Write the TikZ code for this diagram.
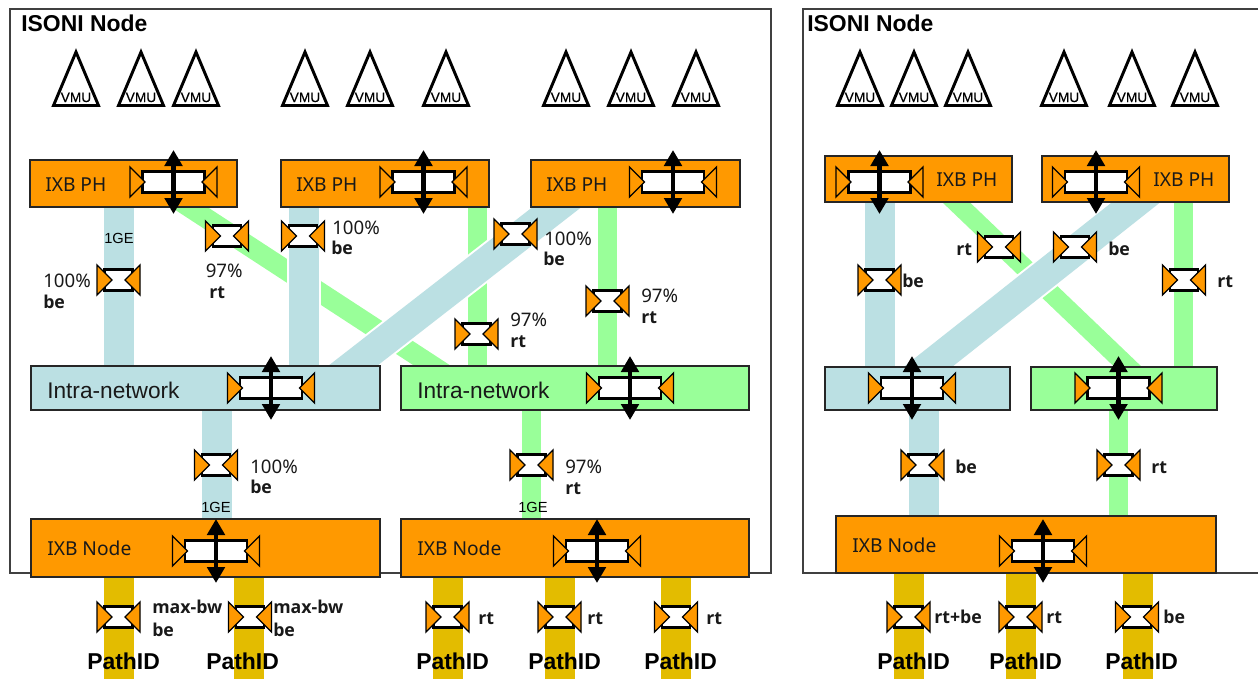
\documentclass[tikz,border=0pt]{standalone}
\usepackage{fontspec}
\setmainfont{Noto Sans}
\newfontfamily\arialfont{Liberation Sans}
\newfontfamily\vmufont[FakeBold=0.4]{Liberation Sans}
\newfontfamily\labelfont{Open Sans}
\usetikzlibrary{arrows.meta,backgrounds}
\definecolor{ixborange}{HTML}{FF9900}
\definecolor{netblue}{HTML}{BBE0E3}
\definecolor{netgreen}{HTML}{99FF99}
\definecolor{pathgold}{HTML}{E3BC00}
\tikzset{
  x=0.75pt,y=-0.75pt,
  wh/.style 2 args={minimum width=#1*0.75pt,minimum height=#2*0.75pt,inner sep=0pt},
  boxnode/.style={draw=black!85,line width=0.85pt,rectangle},
  orangebox/.style={boxnode,fill=ixborange},
  bluebox/.style={boxnode,fill=netblue},
  greenbox/.style={boxnode,fill=netgreen},
  stripblue/.style={draw=netblue,line width=30*0.75pt},
  stripgreen/.style={draw=netgreen,line width=19*0.75pt},
  stripgold/.style={draw=pathgold,line width=30*0.75pt},
  casing/.style={draw=white,line width=34*0.75pt},
  panelline/.style={draw=black!75,line width=0.9pt},
  shaperrect/.style={draw=black,fill=white,line width=2.2pt,inner sep=0pt,rectangle},
  shapertri/.style={draw=black,fill=ixborange,line width=1pt,line join=miter},
  bidir/.style={line width=3.5pt,{Triangle[length=12pt,width=13pt]}-{Triangle[length=12pt,width=13pt]}},
  vmutri/.style={draw=black,fill=white,line width=2.2pt,line join=miter},
  txt/.style={inner sep=0pt,anchor=base west,text=black!90,font=\fontsize{14}{16}\selectfont},
  boldtxt/.style={inner sep=0pt,anchor=base west,text=black!90,font=\labelfont\fontsize{13.3}{16}\selectfont\bfseries},
  boxtxt/.style={txt,font=\fontsize{14.4}{17}\selectfont},
  nettxt/.style={inner sep=0pt,anchor=base west,text=black!90,font=\arialfont\fontsize{17}{19}\selectfont},
  titletxt/.style={inner sep=0pt,anchor=base west,font=\arialfont\fontsize{17.2}{19}\selectfont\bfseries},
  pathtxt/.style={titletxt},
  getxt/.style={inner sep=0pt,anchor=base,font=\arialfont\fontsize{11}{12}\selectfont},
  vmutxt/.style={inner sep=0pt,anchor=base,font=\vmufont\fontsize{10.3}{12}\selectfont},
}
% name, x, y
\newcommand{\smallshaper}[3]{%
  \node[shaperrect,minimum width=21pt,minimum height=15.5pt] (#1) at (#2,#3) {};
  \begin{scope}[shift={(#2,#3)}]
    \draw[shapertri] (-21.5,-15) -- (-21.5,15) -- (-6.5,0) -- cycle;
    \draw[shapertri] (21.5,-15) -- (21.5,15) -- (6.5,0) -- cycle;
  \end{scope}}
\newcommand{\bigshaper}[3]{%
  \node[shaperrect,minimum width=46.5pt,minimum height=15.5pt] (#1) at (#2,#3) {};
  \begin{scope}[shift={(#2,#3)}]
    \draw[shapertri] (-43.5,-15) -- (-43.5,15) -- (-28.5,0) -- cycle;
    \draw[shapertri] (43.5,-15) -- (43.5,15) -- (28.5,0) -- cycle;
    \draw[bidir] (0,-32) -- (0,32);
  \end{scope}}
% name, x
\newcommand{\vmu}[3]{%
  \begin{scope}[shift={(#2,#3)}]
    \draw[vmutri] (0,5) -- (-22.5,58.5) -- (22.5,58.5) -- cycle;
  \end{scope}
  \node[vmutxt] (#1) at (#2,#3+55) {VMU};}
\begin{document}
\begin{tikzpicture}
\useasboundingbox (0,0) rectangle (1258,679);
% boxes
\node[orangebox,wh={207}{47}] (ph1) at (133.5,183.5) {};
\node[orangebox,wh={208}{47}] (ph2) at (385,183.5) {};
\node[orangebox,wh={209}{47}] (ph3) at (635.5,183.5) {};
\node[bluebox,wh={349}{44}] (in1) at (205.5,388) {};
\node[greenbox,wh={348}{44}] (in2) at (575,388) {};
\node[orangebox,wh={349}{58}] (nd1) at (205.5,548) {};
\node[orangebox,wh={348}{58}] (nd2) at (575,548) {};
\node[orangebox,wh={187}{46}] (rph1) at (918.5,179) {};
\node[orangebox,wh={187}{46}] (rph2) at (1135.5,179) {};
\node[bluebox,wh={185}{43}] (rin1) at (917.5,388.5) {};
\node[greenbox,wh={186}{43}] (rin2) at (1124,388.5) {};
\node[orangebox,wh={380}{57}] (rnd) at (1026,544.5) {};
% strip columns
\coordinate (a1) at (119,0);
\coordinate (a2) at (303.5,0);
\coordinate (a3) at (216.5,0);
\coordinate (a4) at (477.5,0);
\coordinate (a5) at (607.5,0);
\coordinate (a6) at (531.5,0);
\coordinate (g1) at (119,0);
\coordinate (g2) at (249,0);
\coordinate (g3) at (448,0);
\coordinate (g4) at (560,0);
\coordinate (g5) at (676,0);
\coordinate (g6) at (908.5,0);
\coordinate (g7) at (1021,0);
\coordinate (g8) at (1137.5,0);
\coordinate (b1) at (879.5,0);
\coordinate (b2) at (923.5,0);
\coordinate (b3) at (1183.5,0);
\coordinate (b4) at (1118.5,0);
\coordinate (floor) at (0,679);
\coordinate (gd1) at (163,190);
\coordinate (gd2) at (462,385);
\coordinate (bd1) at (579,190);
\coordinate (bd2) at (328,385);
\coordinate (rgd1) at (938,185);
\coordinate (rgd2) at (1147,385);
\coordinate (rbd1) at (1158,185);
\coordinate (rbd2) at (905,385);
\begin{scope}[on background layer]
  \fill[white] (0,0) rectangle (1258,679);
  \node[panelline,rectangle,draw,fill=white,inner sep=0pt,minimum width=761*0.75pt,minimum height=564*0.75pt] (panelL) at (390.5,291) {};
  \coordinate (rp1) at (1258,9);
  \coordinate (rp2) at (803,9);
  \coordinate (rp3) at (803,573);
  \coordinate (rp4) at (1258,573);
  \draw[panelline] (rp1) -- (rp2) -- (rp3) -- (rp4);
  % left panel
  \draw[stripgreen,line width=20*0.75pt] (gd1) -- (gd2);
  \draw[stripgreen] (a4 |- ph2.south) -- (a4 |- in2.north);
  \draw[stripgreen] (a5 |- ph3.south) -- (a5 |- in2.north);
  \draw[stripgreen] (a6 |- in2.south) -- (a6 |- nd2.north);
  \draw[stripblue] (a1 |- ph1.south) -- (a1 |- in1.north);
  \draw[casing] (a2 |- ph2.south) -- (a2 |- in1.north);
  \draw[stripblue] (a2 |- ph2.south) -- (a2 |- in1.north);
  \draw[stripblue] (a3 |- in1.south) -- (a3 |- nd1.north);
  \draw[casing] (bd1) -- (bd2);
  \draw[stripblue] (bd1) -- (bd2);
  % right panel
  \draw[stripgreen] (rgd1) -- (rgd2);
  \draw[stripgreen] (b3 |- rph2.south) -- (b3 |- rin2.north);
  \draw[stripgreen] (b4 |- rin2.south) -- (b4 |- rnd.north);
  \draw[stripblue] (b1 |- rph1.south) -- (b1 |- rin1.north);
  \draw[stripblue] (b2 |- rin1.south) -- (b2 |- rnd.north);
  \draw[casing] (rbd1) -- (rbd2);
  \draw[stripblue] (rbd1) -- (rbd2);
  % path strips
  \draw[stripgold] (g1 |- nd1.south) -- (g1 |- floor);
  \draw[stripgold] (g2 |- nd1.south) -- (g2 |- floor);
  \draw[stripgold] (g3 |- nd2.south) -- (g3 |- floor);
  \draw[stripgold] (g4 |- nd2.south) -- (g4 |- floor);
  \draw[stripgold] (g5 |- nd2.south) -- (g5 |- floor);
  \draw[stripgold] (g6 |- rnd.south) -- (g6 |- floor);
  \draw[stripgold] (g7 |- rnd.south) -- (g7 |- floor);
  \draw[stripgold] (g8 |- rnd.south) -- (g8 |- floor);
\end{scope}
% VMUs
\vmu{v1}{76}{47}\vmu{v2}{141}{47}\vmu{v3}{196}{47}
\vmu{v4}{305}{47}\vmu{v5}{370}{47}\vmu{v6}{446}{47}
\vmu{v7}{566}{47}\vmu{v8}{631}{47}\vmu{v9}{696}{47}
\vmu{v10}{860}{47}\vmu{v11}{914}{47}\vmu{v12}{968}{47}
\vmu{v13}{1064}{47}\vmu{v14}{1132}{47}\vmu{v15}{1195}{47}
% big shapers
\bigshaper{bs1}{173.5}{182}
\bigshaper{bs2}{423.5}{182}
\bigshaper{bs3}{673}{182}
\bigshaper{bs4}{271}{388}
\bigshaper{bs5}{630}{388}
\bigshaper{bs6}{216}{551}
\bigshaper{bs7}{597}{551}
\bigshaper{bs8}{879.5}{182}
\bigshaper{bs9}{1096}{182}
\bigshaper{bs10}{912}{388}
\bigshaper{bs11}{1118.5}{388}
\bigshaper{bs12}{1043}{551}
% small shapers
\smallshaper{ss1}{118.5}{280}
\smallshaper{ss2}{227}{236}
\smallshaper{ss3}{303}{236}
\smallshaper{ss4}{515.5}{234}
\smallshaper{ss5}{476.5}{334}
\smallshaper{ss6}{607.5}{301}
\smallshaper{ss7}{216}{465}
\smallshaper{ss8}{531.5}{465}
\smallshaper{ss9}{118.5}{617}
\smallshaper{ss10}{250}{617}
\smallshaper{ss11}{447.5}{617}
\smallshaper{ss12}{559.5}{617}
\smallshaper{ss13}{676}{617}
\smallshaper{ss14}{879.5}{280}
\smallshaper{ss15}{999}{247}
\smallshaper{ss16}{1075}{247}
\smallshaper{ss17}{1184}{280}
\smallshaper{ss18}{922.5}{465}
\smallshaper{ss19}{1118.5}{465}
\smallshaper{ss20}{908.5}{617}
\smallshaper{ss21}{1020.5}{617}
\smallshaper{ss22}{1137}{617}
% titles
\node[titletxt] (t1) at (21,31) {ISONI Node};
\node[titletxt] (t2) at (807,31) {ISONI Node};
% box labels
\node[boxtxt] (l1) at (45,191) {IXB PH};
\node[boxtxt] (l2) at (296,191) {IXB PH};
\node[boxtxt] (l3) at (546,191) {IXB PH};
\node[boxtxt] (l4) at (936,186) {IXB PH};
\node[boxtxt] (l5) at (1153,186) {IXB PH};
\node[nettxt] (l6) at (47,398) {Intra-network};
\node[nettxt] (l7) at (417,398) {Intra-network};
\node[boxtxt] (l8) at (47,555) {IXB Node};
\node[boxtxt] (l9) at (417,555) {IXB Node};
\node[boxtxt] (l10) at (852,552) {IXB Node};
% 1GE
\node[getxt] (ge1) at (119,243) {1GE};
\node[getxt] (ge2) at (216,512) {1GE};
\node[getxt] (ge3) at (533,512) {1GE};
% rates
\node[txt] (p1) at (43,287) {100\%};
\node[boldtxt] (q1) at (43,308) {be};
\node[txt] (p2) at (205.5,277) {97\%};
\node[boldtxt] (q2) at (209,298) {rt};
\node[txt] (p3) at (332,234) {100\%};
\node[boldtxt] (q3) at (331,254) {be};
\node[txt] (p4) at (544,245) {100\%};
\node[boldtxt] (q4) at (543,265) {be};
\node[txt] (p5) at (510,326) {97\%};
\node[boldtxt] (q5) at (510,347) {rt};
\node[txt] (p6) at (641,302) {97\%};
\node[boldtxt] (q6) at (641,323) {rt};
\node[txt] (p7) at (250,473) {100\%};
\node[boldtxt] (q7) at (250,493) {be};
\node[txt] (p8) at (565,473) {97\%};
\node[boldtxt] (q8) at (565,494) {rt};
\node[boldtxt] (m1) at (152,613) {max-bw};
\node[boldtxt] (m2) at (152,636) {be};
\node[boldtxt] (m3) at (273,613) {max-bw};
\node[boldtxt] (m4) at (273,636) {be};
\node[boldtxt] (r1) at (478,624) {rt};
\node[boldtxt] (r2) at (587,624) {rt};
\node[boldtxt] (r3) at (706,624) {rt};
\node[boldtxt] (r4) at (956,255) {rt};
\node[boldtxt] (r5) at (1108,255) {be};
\node[boldtxt] (r6) at (902,287) {be};
\node[boldtxt] (r7) at (1217,287) {rt};
\node[boldtxt] (r8) at (955,473) {be};
\node[boldtxt] (r9) at (1151,473) {rt};
\node[boldtxt] (r10) at (934,623) {rt+be};
\node[boldtxt] (r11) at (1046,623) {rt};
\node[boldtxt] (r12) at (1163,623) {be};
% path ids
\node[pathtxt] (id1) at (87,669) {PathID};
\node[pathtxt] (id2) at (206,669) {PathID};
\node[pathtxt] (id3) at (416,669) {PathID};
\node[pathtxt] (id4) at (528,669) {PathID};
\node[pathtxt] (id5) at (644,669) {PathID};
\node[pathtxt] (id6) at (877,669) {PathID};
\node[pathtxt] (id7) at (989,669) {PathID};
\node[pathtxt] (id8) at (1105,669) {PathID};
\end{tikzpicture}
\end{document}
